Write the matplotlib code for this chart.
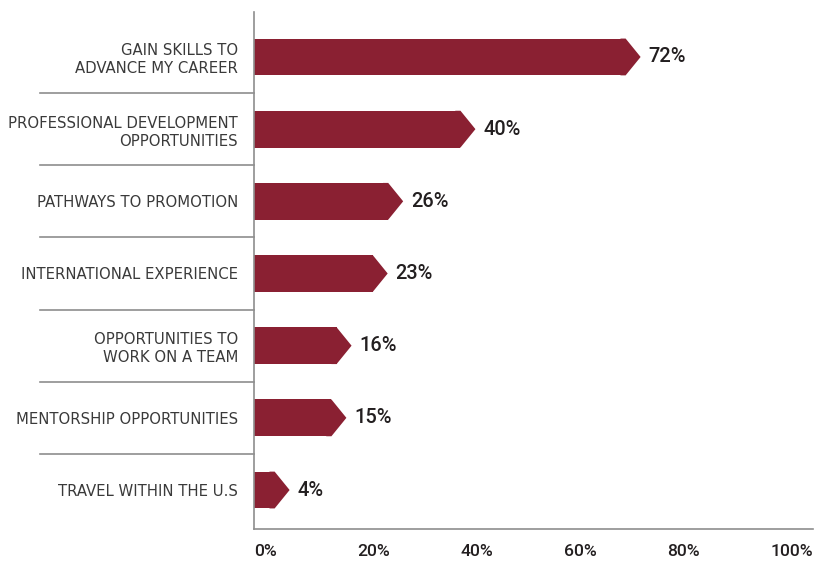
import matplotlib
matplotlib.use("Agg")
import matplotlib.pyplot as plt
from matplotlib.patches import Polygon
import matplotlib.transforms as mtransforms

# Survey responses: share of respondents citing each motivation
categories = [
    "GAIN SKILLS TO\nADVANCE MY CAREER",
    "PROFESSIONAL DEVELOPMENT\nOPPORTUNITIES",
    "PATHWAYS TO PROMOTION",
    "INTERNATIONAL EXPERIENCE",
    "OPPORTUNITIES TO\nWORK ON A TEAM",
    "MENTORSHIP OPPORTUNITIES",
    "TRAVEL WITHIN THE U.S",
]
values = [72, 40, 26, 23, 16, 15, 4]
x_ticks = [0, 20, 40, 60, 80, 100]
x_tick_labels = ["0%", "20%", "40%", "60%", "80%", "100%"]

BAR_COLOR = "#8a2032"
AXIS_COLOR = "#8e8e8e"
TEXT_DARK = "#231f20"
LABEL_COLOR = "#3a3a3a"

W, H = 818, 561
fig = plt.figure(figsize=(W / 100, H / 100), dpi=100)
ax = fig.add_axes([254 / W, 1 - 529 / H, (813 - 254) / W, (529 - 12) / H])

ax.set_xlim(0, 108.3)
ax.set_ylim(len(values) - 1 + 0.54, -0.623)

bar_h = 0.51
tip = 2.9  # depth of the arrow point, in data units

rows = list(range(len(values)))
ax.barh(rows, values, height=bar_h, color=BAR_COLOR, edgecolor="none", zorder=2)
for y, v in zip(rows, values):
    back = min(1.0, v * 0.5)
    ax.add_patch(Polygon(
        [(v - back, y - bar_h / 2), (v, y - bar_h / 2), (v + tip, y),
         (v, y + bar_h / 2), (v - back, y + bar_h / 2)],
        closed=True, facecolor=BAR_COLOR, edgecolor="none", zorder=2))
    ax.annotate(f"{v}%", xy=(v + tip, y), xytext=(5.5, 0), textcoords="offset points",
                ha="left", va="center", fontsize=14.4, family="Roboto",
                weight="medium", color=TEXT_DARK)

# Spines: only left and bottom
for side in ("top", "right"):
    ax.spines[side].set_visible(False)
for side in ("left", "bottom"):
    ax.spines[side].set_color(AXIS_COLOR)
    ax.spines[side].set_linewidth(1.2)

# Category labels
ax.set_yticks(rows)
ax.set_yticklabels(categories, fontsize=10.7, family="DejaVu Sans",
                   color=LABEL_COLOR, linespacing=1.25, ha="right")
ax.tick_params(axis="y", length=0, pad=11.5)

# Percentage axis
ax.set_xticks(x_ticks)
ax.set_xticklabels(x_tick_labels, fontsize=12.6, family="Roboto",
                   weight="medium", color=TEXT_DARK)
for lbl in ax.get_xticklabels():
    lbl.set_ha("left")
ax.tick_params(axis="x", length=0, pad=11)

# Separator rules between categories, extending left of the axis
trans = mtransforms.blended_transform_factory(ax.transAxes, ax.transData)
x_left = (40 - 254) / (813 - 254)
for y in rows[:-1]:
    ax.plot([x_left, 0], [y + 0.5, y + 0.5], color=AXIS_COLOR, lw=1.2,
            transform=trans, clip_on=False, zorder=1)

fig.savefig("out.png", dpi=100)
